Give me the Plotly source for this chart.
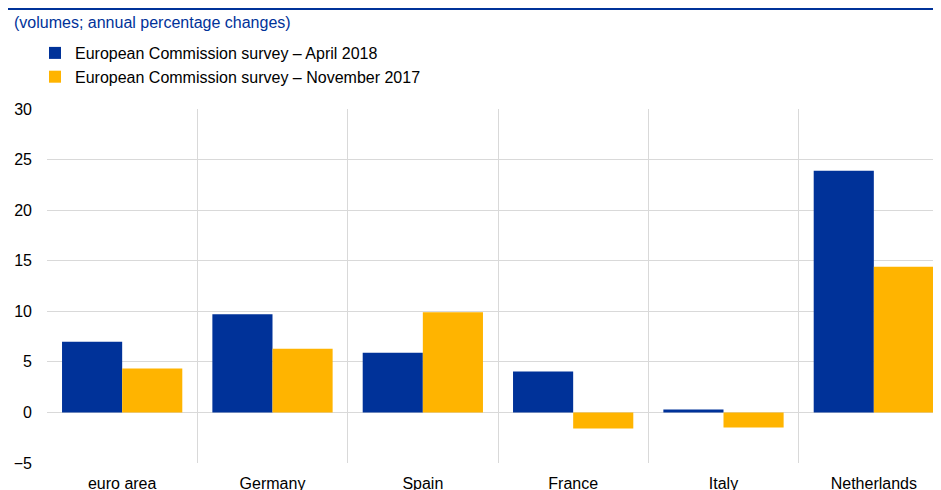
import plotly.graph_objects as go

countries = ['euro area', 'Germany', 'Spain', 'France', 'Italy', 'Netherlands']
april_2018 = [7.0, 9.7, 5.9, 4.05, 0.3, 23.9]
november_2017 = [4.35, 6.3, 9.9, -1.6, -1.5, 14.4]

ECB_BLUE = '#003299'
ECB_YELLOW = '#FFB400'
GRID = '#d9d9d9'

fig = go.Figure()
fig.add_trace(go.Bar(
    x=countries, y=april_2018, name='European Commission survey – April 2018',
    marker={'color': ECB_BLUE, 'line': {'width': 0}},
))
fig.add_trace(go.Bar(
    x=countries, y=november_2017, name='European Commission survey – November 2017',
    marker={'color': ECB_YELLOW, 'line': {'width': 0}},
))

# the page body adds an 8px margin, so the figure itself sits 8px right/down
W, H = 941, 490
L, T = 39, 101
plot_h = 354
B = H - T - plot_h
plot_w = W - L

fig.update_layout(
    width=W, height=H,
    margin={'l': L, 'r': 0, 't': T, 'b': B, 'pad': 0, 'autoexpand': False},
    paper_bgcolor='white', plot_bgcolor='white',
    font={'family': 'Liberation Sans, Arial, sans-serif', 'size': 16, 'color': '#000000'},
    barmode='group', bargap=0.2, bargroupgap=0,
    showlegend=True,
    legend={
        'x': -12 / plot_w, 'xanchor': 'left', 'y': 1 + (T - 28) / plot_h, 'yanchor': 'top',
        'font': {'size': 16}, 'tracegroupgap': 0, 'itemwidth': 30,
        'bgcolor': 'rgba(0,0,0,0)',
    },
    xaxis={
        'type': 'category', 'tickson': 'boundaries', 'showgrid': True, 'gridcolor': GRID,
        'ticks': '', 'showline': False, 'range': [-0.5, 5.5],
        'tickfont': {'size': 16}, 'automargin': False, 'ticklabelstandoff': 9,
    },
    yaxis={
        'range': [-5, 30], 'dtick': 5, 'showgrid': True, 'gridcolor': GRID,
        'zeroline': True, 'zerolinecolor': GRID, 'zerolinewidth': 1,
        'ticks': '', 'showline': False, 'tickfont': {'size': 16}, 'automargin': False,
        'ticklabelstandoff': 14,
    },
    shapes=[{
        'type': 'line', 'xref': 'paper', 'yref': 'paper',
        'x0': -L / plot_w, 'x1': 1, 'y0': 1 + (T - 1) / plot_h, 'y1': 1 + (T - 1) / plot_h,
        'line': {'color': ECB_BLUE, 'width': 2},
    }],
    annotations=[{
        'text': '(volumes; annual percentage changes)', 'xref': 'paper', 'yref': 'paper',
        'x': -(L - 4) / plot_w, 'xanchor': 'left', 'y': 1 + (T - 14) / plot_h, 'yanchor': 'middle',
        'showarrow': False, 'font': {'size': 16, 'color': ECB_BLUE},
    }],
)

fig.write_html('out.html')
